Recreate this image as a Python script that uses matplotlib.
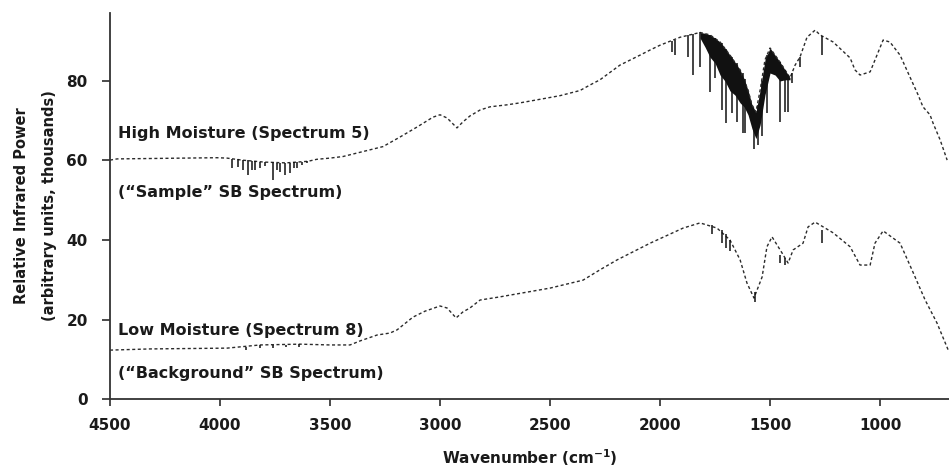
import matplotlib
matplotlib.use("Agg")
import matplotlib.pyplot as plt
import numpy as np

# ---------------- data ----------------
# High-moisture ("Sample") spectrum: continuum / upper envelope
hi_wn = [4500, 4468, 4014, 3968, 3900, 3800, 3700, 3600, 3560, 3500, 3441, 3259,
         3182, 3105, 3032, 3000, 2968, 2923, 2896, 2864, 2818, 2773, 2696, 2636,
         2545, 2455, 2364, 2318, 2273, 2182, 2091, 2045, 2000, 1909, 1864, 1818,
         1773, 1727, 1682, 1636, 1600, 1582, 1564, 1545, 1523, 1500, 1477, 1455,
         1432, 1409, 1386, 1364, 1332, 1295, 1273, 1213, 1136, 1114, 1091, 1045,
         1014, 986, 955, 909, 864, 827, 805, 773, 759, 727, 695]
hi_val = [60.1, 60.4, 60.7, 60.6, 60.1, 59.6, 59.4, 59.8, 60.3, 60.6, 61.0, 63.5,
          65.9, 68.4, 70.9, 71.5, 70.7, 68.2, 69.7, 71.2, 72.7, 73.5, 74.0, 74.5,
          75.4, 76.3, 77.6, 79.0, 80.3, 84.0, 86.5, 87.8, 89.0, 91.0, 91.6, 92.2,
          91.6, 89.8, 86.5, 82.8, 77.7, 74.0, 72.2, 77.7, 85.3, 88.3, 86.5, 84.8,
          82.8, 80.8, 84.0, 86.0, 91.0, 92.8, 91.6, 89.8, 85.8, 82.8, 81.5, 82.3,
          86.5, 90.3, 89.8, 86.5, 81.0, 76.5, 73.5, 71.5, 69.4, 65.2, 60.1]

# dense absorption band (filled region) of the high-moisture spectrum
band_wn = [1818, 1795, 1773, 1750, 1727, 1705, 1682, 1660, 1636, 1618, 1600, 1582,
           1564, 1545, 1523, 1500, 1477, 1455, 1432, 1409]
band_hi = [92.2, 92.0, 91.6, 90.8, 89.8, 88.3, 86.5, 84.8, 82.8, 80.5, 77.7, 74.0,
           72.2, 77.7, 85.3, 88.3, 86.5, 84.8, 82.8, 80.8]
band_lo = [90.8, 88.5, 86.0, 84.5, 81.5, 80.0, 77.5, 76.5, 74.5, 73.5, 71.5, 68.0,
           65.5, 69.0, 76.5, 82.0, 81.5, 80.0, 80.3, 80.3]

# individual water-vapour absorption lines, high moisture
hi_line_wn = [3945, 3918, 3895, 3873, 3855, 3841, 3818, 3795, 3759, 3741, 3727,
              3705, 3682, 3664, 3650, 3627, 3605,
              1945, 1932, 1873, 1850, 1818, 1773, 1750, 1718, 1700, 1673, 1650,
              1623, 1614, 1573, 1555, 1536, 1514, 1455, 1432, 1418, 1400, 1364, 1264]
hi_line_top = [60.5, 60.3, 60.2, 60.0, 59.9, 59.8, 59.7, 59.6, 59.5, 59.4, 59.4,
               59.4, 59.4, 59.5, 59.6, 59.7, 59.9,
               90.0, 90.3, 91.5, 91.8, 92.2, 91.6, 90.8, 89.5, 88.0, 86.0, 84.5,
               82.0, 80.5, 72.5, 74.0, 80.0, 86.5, 84.8, 82.8, 81.5, 82.0, 86.0, 91.3]
hi_line_bot = [58.1, 58.4, 57.6, 56.4, 57.6, 57.6, 58.1, 58.6, 55.1, 57.6, 57.1,
               56.4, 56.9, 58.1, 58.1, 58.9, 59.4,
               87.3, 86.5, 86.0, 81.5, 83.5, 77.2, 80.8, 72.7, 69.4, 72.0, 69.7,
               66.9, 66.9, 62.9, 64.0, 66.2, 72.0, 69.7, 72.2, 72.2, 79.5, 83.5, 86.5]

# Low-moisture ("Background") spectrum
lo_wn = [4500, 4318, 3968, 3818, 3636, 3500, 3409, 3364, 3286, 3227, 3195, 3123,
         3068, 3000, 2968, 2927, 2896, 2864, 2818, 2727, 2500, 2350, 2273, 2195,
         2045, 1895, 1818, 1741, 1682, 1636, 1605, 1573, 1536, 1514, 1491, 1445,
         1418, 1395, 1350, 1327, 1295, 1213, 1136, 1091, 1045, 1023, 986, 909,
         855, 795, 741, 690]
lo_val = [12.3, 12.6, 12.8, 13.6, 13.8, 13.6, 13.6, 14.6, 16.1, 16.6, 17.4, 20.6,
          22.1, 23.4, 22.9, 20.4, 21.9, 22.9, 24.9, 25.7, 27.9, 29.9, 32.5, 35.0,
          39.2, 43.0, 44.3, 43.0, 40.0, 35.0, 29.2, 25.4, 30.7, 38.3, 40.8, 36.7,
          34.2, 37.5, 39.2, 43.3, 44.5, 41.8, 38.3, 33.7, 33.7, 39.2, 42.3, 39.2,
          32.5, 24.9, 19.1, 12.3]

lo_line_wn = [3880, 3820, 3760, 3700, 3640, 1764, 1718, 1700, 1682, 1568, 1455,
              1432, 1264]
lo_line_top = [13.2, 13.5, 13.6, 13.7, 13.8, 43.8, 42.5, 41.5, 40.0, 27.0, 36.3,
               35.5, 42.5]
lo_line_bot = [12.3, 12.8, 12.9, 13.0, 13.2, 41.5, 39.2, 38.0, 37.3, 24.4, 34.2,
               33.8, 39.2]

x_ticks = [4500, 4000, 3500, 3000, 2500, 2000, 1500, 1000]
y_ticks = [0, 20, 40, 60, 80]

labels = [
    (4464, 65.7, "High Moisture (Spectrum 5)"),
    (4464, 50.8, "(\u201cSample\u201d SB Spectrum)"),
    (4464, 16.1, "Low Moisture (Spectrum 8)"),
    (4464, 5.3, "(\u201cBackground\u201d SB Spectrum)"),
]

# ---------------- drawing ----------------
plt.rcParams['font.family'] = ['DejaVu Sans']
plt.rcParams['font.weight'] = 'bold'

fig = plt.figure(figsize=(9.49, 4.68), dpi=100)
ax = fig.add_axes([0.1159, 0.1474, 0.884, 0.8248])

curve_color = '#2b2b2b'
ls = (0, (2.2, 1.8))
ax.plot(hi_wn, hi_val, color=curve_color, lw=1.0, linestyle=ls)
ax.plot(lo_wn, lo_val, color=curve_color, lw=1.0, linestyle=ls)
ax.fill_between(band_wn, band_lo, band_hi, color='#111111', lw=0)
ax.vlines(hi_line_wn, hi_line_bot, hi_line_top, color='#111111', lw=1.1)
ax.vlines(lo_line_wn, lo_line_bot, lo_line_top, color='#111111', lw=1.1)

for x, y, t in labels:
    ax.text(x, y, t, fontsize=11.5, fontweight='bold', ha='left', va='baseline',
            color='#1a1a1a')

ax.set_xlim(4500, 687)
ax.set_ylim(0, 97.1)
ax.set_xticks(x_ticks)
ax.set_yticks(y_ticks)
ax.set_xticklabels([str(v) for v in x_ticks])
ax.set_yticklabels([str(v) for v in y_ticks])
ax.tick_params(axis='x', direction='out', length=5, width=1.1, pad=9,
               labelsize=11, colors='#1a1a1a')
ax.tick_params(axis='y', direction='out', length=6, width=1.1, pad=10,
               labelsize=11, colors='#1a1a1a')
for s in ['top', 'right']:
    ax.spines[s].set_visible(False)
for s in ['left', 'bottom']:
    ax.spines[s].set_linewidth(1.3)
    ax.spines[s].set_color('#333333')

ax.set_xlabel("Wavenumber (cm$^{-1}$)", fontsize=11, fontweight='bold',
              color='#1a1a1a', labelpad=10)
ax.set_ylabel("Relative Infrared Power\n(arbitrary units, thousands)",
              fontsize=10.5, fontweight='bold', color='#1a1a1a',
              linespacing=2.05, labelpad=7)

fig.savefig("out.png", dpi=100)
